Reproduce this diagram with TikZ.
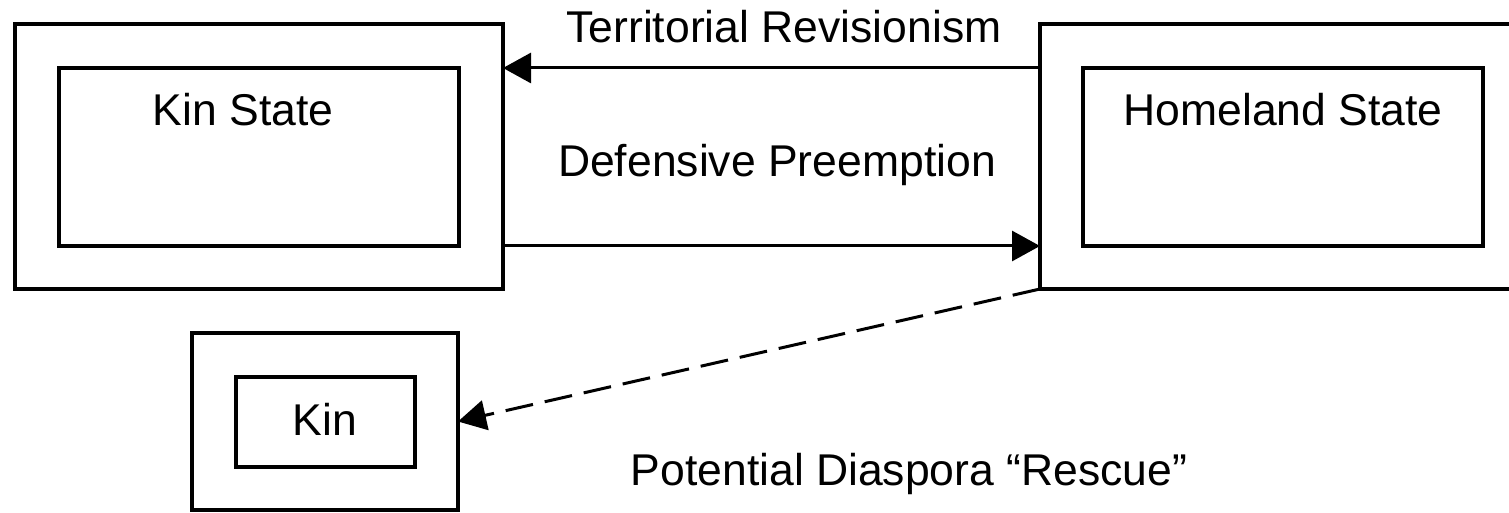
\documentclass[tikz,border=0pt]{standalone}
\usepackage{fontspec}
\setmainfont{Liberation Sans}
\usetikzlibrary{arrows.meta}
\begin{document}
\begin{tikzpicture}[x=0.5pt,y=-0.5pt,
  box/.style={draw, line width=1.7pt, rectangle, inner sep=0pt, outer sep=0pt},
  lbl/.style={anchor=base, inner sep=0pt, font=\fontsize{22.25}{26}\selectfont},
  arr/.style={line width=1.5pt, -{Triangle[length=14pt,width=15pt]}},
  dsh/.style={line width=1.5pt, dash pattern=on 14pt off 6pt, -{Triangle[length=14pt,width=15pt]}}]
\useasboundingbox (0,0) rectangle (1509,513);
\clip (0,0) rectangle (1509,513);
% Kin State
\node[box, minimum width=244pt, minimum height=132.5pt] (lo) at (259,156.5) {};
\node[box, minimum width=200pt, minimum height=89pt] (li) at (259,157) {};
\node[lbl] (lt) at (243,126) {Kin State};
% Homeland State
\node[box, minimum width=243.5pt, minimum height=132.5pt] (ro) at (1283.5,156.5) {};
\node[box, minimum width=200pt, minimum height=89pt] (ri) at (1283,157) {};
\node[lbl] (rt) at (1283,126) {Homeland State};
% Kin
\node[box, minimum width=133pt, minimum height=88.5pt] (ko) at (325,421.5) {};
\node[box, minimum width=89.5pt, minimum height=45pt] (ki) at (325.5,422) {};
\node[lbl] (kt) at (325,435) {Kin};
% connectors
\draw[arr] (ro.west |- ri.north) -- (lo.east |- li.north);
\draw[arr] (lo.east |- li.south) -- (ro.west |- ri.south);
\draw[dsh] (ro.south west) -- (ko.east);
% labels
\node[lbl] (l1) at (784,43) {Territorial Revisionism};
\node[lbl] (l2) at (777,177) {Defensive Preemption};
\node[lbl] (l3) at (909,485) {Potential Diaspora “Rescue”};
\end{tikzpicture}
\end{document}
